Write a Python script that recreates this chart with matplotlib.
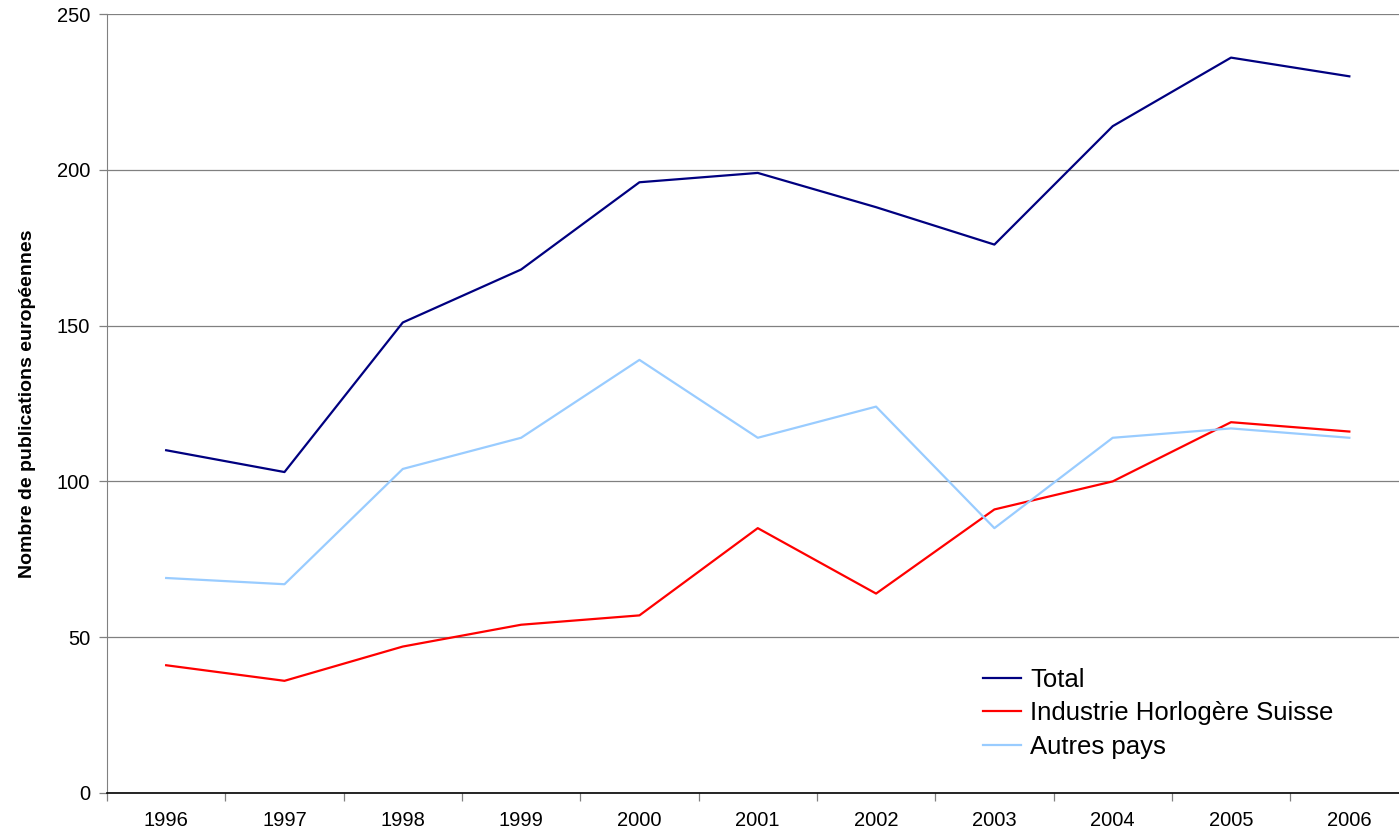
import numpy as np
import matplotlib.pyplot as plt
from matplotlib.ticker import FixedLocator

plt.rcParams['font.family'] = ['Liberation Sans', 'DejaVu Sans']

years = ['1996', '1997', '1998', '1999', '2000', '2001', '2002', '2003', '2004', '2005', '2006']
total = [110, 103, 151, 168, 196, 199, 188, 176, 214, 236, 230]
industrie = [41, 36, 47, 54, 57, 85, 64, 91, 100, 119, 116]
autres = [69, 67, 104, 114, 139, 114, 124, 85, 114, 117, 114]

fig = plt.figure(figsize=(13.99, 8.31), dpi=100)
# axes run past the right edge of the figure, as in the original
ax = fig.add_axes([107 / 1399, 38 / 831, 1301.5 / 1399, 779 / 831])

x = np.arange(len(years))
ax.plot(x, total, color='#000080', lw=1.6, label='Total')
ax.plot(x, industrie, color='#FF0000', lw=1.6, label='Industrie Horlogère Suisse')
ax.plot(x, autres, color='#99CCFF', lw=1.6, label='Autres pays')

ax.set_xlim(-0.5, len(years) - 0.5)
ax.set_ylim(0, 250)
ax.set_yticks(range(0, 251, 50))
ax.yaxis.grid(True, color='#808080', lw=0.9)
ax.set_axisbelow(True)

ax.set_xticks(x)
ax.set_xticklabels(years, fontsize=14.5)
ax.tick_params(axis='x', which='major', length=0, pad=13)
ax.xaxis.set_minor_locator(FixedLocator(np.arange(-0.5, len(years), 1.0)))
ax.tick_params(axis='x', which='minor', length=6, color='#808080', width=0.9)
ax.tick_params(axis='y', labelsize=14.5, length=6, color='#808080', width=0.9, pad=6)

for s in ['top', 'right']:
    ax.spines[s].set_visible(False)
ax.spines['left'].set_color('#808080')
ax.spines['bottom'].set_color('black')
ax.spines['bottom'].set_linewidth(1.2)

ax.set_ylabel('Nombre de publications européennes', fontsize=14, fontweight='bold',
              labelpad=15)

ax.legend(loc='upper left', bbox_to_anchor=(0.655, 0.19), frameon=False, fontsize=18.5,
          handlelength=1.5, handletextpad=0.35, labelspacing=0.36)

fig.savefig('out.png', dpi=100)
